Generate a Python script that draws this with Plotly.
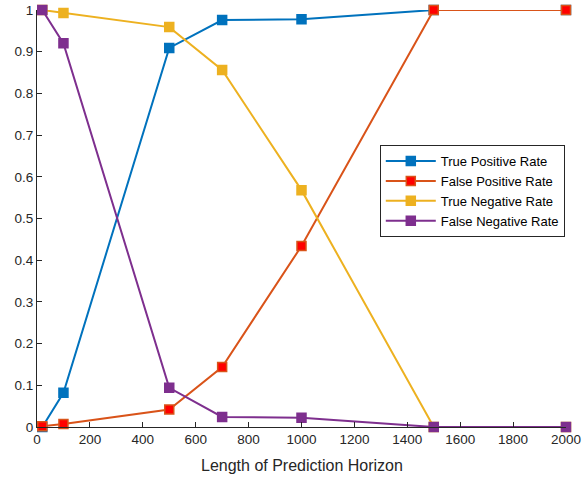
import plotly.graph_objects as go

horizon = [20, 100, 500, 700, 1000, 1500, 2000]
tpr = [0.0, 0.082, 0.909, 0.976, 0.978, 1.0, 1.0]
fpr = [0.002, 0.007, 0.042, 0.144, 0.434, 1.0, 1.0]
tnr = [1.0, 0.993, 0.959, 0.856, 0.568, 0.0, 0.0]
fnr = [1.0, 0.92, 0.094, 0.024, 0.022, 0.0, 0.0]
names = ["True Positive Rate", "False Positive Rate", "True Negative Rate", "False Negative Rate"]
colors = ["#0072BD", "#D95319", "#EDB120", "#7E2F8E"]
fills = ["#0072BD", "#FF0000", "#EDB120", "#7E2F8E"]
x_ticks = list(range(0, 2001, 200))
y_ticks = [i / 10 for i in range(11)]
y_labels = ["0"] + [f"{v:.1f}" for v in y_ticks[1:-1]] + ["1"]
FONT = "Liberation Sans, Arial"

fig = go.Figure()
for name, vals, c, fc in zip(names, [tpr, fpr, tnr, fnr], colors, fills):
    fig.add_trace(go.Scatter(
        x=horizon, y=vals, name=name, mode="lines+markers", cliponaxis=False,
        line=dict(color=c, width=2),
        marker=dict(symbol="square", size=9, color=fc, line=dict(color=c, width=1.5)),
    ))

axis_common = dict(
    showgrid=False, zeroline=False, showline=True, linecolor="#262626", linewidth=1,
    ticks="inside", ticklen=5, tickcolor="#262626", automargin=False,
    tickfont=dict(family=FONT, size=13.5, color="#262626"),
)
fig.update_xaxes(range=[0, 2000], tickvals=x_ticks, **axis_common)
fig.update_yaxes(range=[0, 1], tickvals=y_ticks, ticktext=y_labels, **axis_common)

fig.add_annotation(text="Length of Prediction Horizon", xref="paper", yref="paper",
                   x=0.5, y=0, yshift=-38, xanchor="center", yanchor="middle",
                   showarrow=False, font=dict(family=FONT, size=16, color="#262626"))

fig.update_layout(
    width=584, height=477,
    margin=dict(l=37, r=18, t=10, b=50),
    plot_bgcolor="white", paper_bgcolor="white",
    legend=dict(x=0.648, y=0.676, xanchor="left", yanchor="top",
                bgcolor="white", bordercolor="#262626", borderwidth=1,
                font=dict(family=FONT, size=13, color="#000000"),
                tracegroupgap=0, itemwidth=50),
    showlegend=True,
)
fig.write_html("out.html", config={"displayModeBar": False},
               post_script="document.body.style.margin='0';")
